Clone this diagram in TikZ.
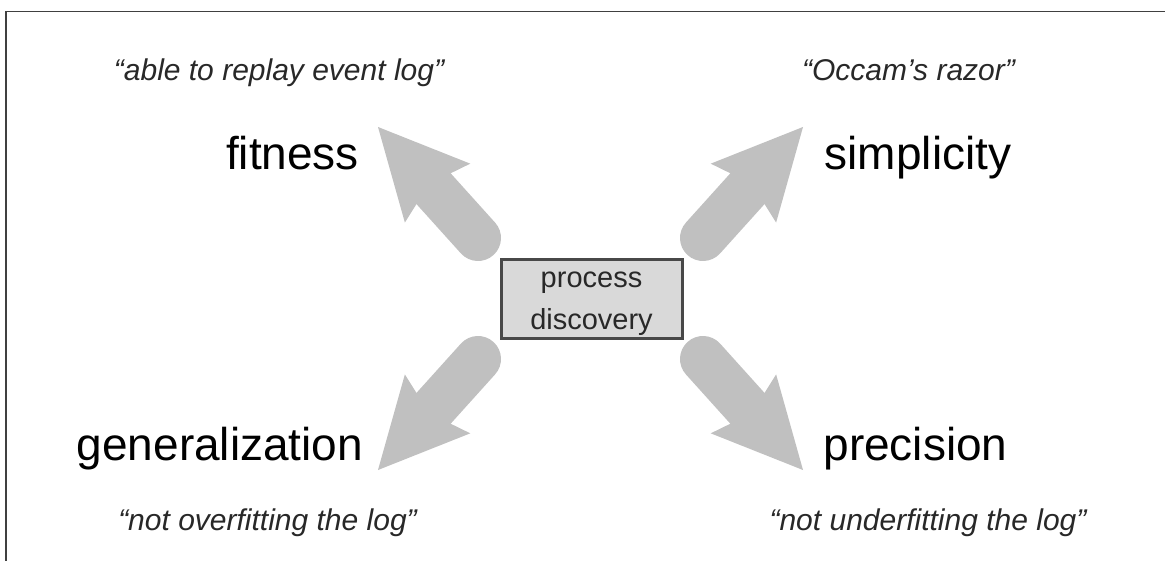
\documentclass[tikz,border=0pt]{standalone}
\usepackage{fontspec}
\setmainfont{Liberation Sans}
\usetikzlibrary{calc}
\definecolor{arrowgray}{RGB}{192,192,192}
\definecolor{boxfill}{RGB}{217,217,217}
\definecolor{boxline}{RGB}{72,72,72}
\definecolor{framecol}{RGB}{64,64,64}
\definecolor{quotecol}{RGB}{40,40,40}
\tikzset{
  label/.style={anchor=base, inner sep=0pt, font=\fontsize{46}{55}\selectfont, text=black},
  quote/.style={anchor=base, inner sep=0pt, font=\fontsize{30}{36}\selectfont\itshape, text=quotecol},
  centerbox/.style={draw=boxline, line width=3pt, fill=boxfill, minimum width=181pt,
    minimum height=79pt, inner sep=0pt},
  boxtext/.style={inner sep=0pt, align=center, text=quotecol,
    font=\fontsize{29}{42}\selectfont},
  arrowbody/.style={draw=arrowgray, line width=46pt, line cap=round},
  arrowhead/.style={fill=arrowgray}
}
% thick grey arrow with a round tail: #1 = tail, #2 = tip
\newcommand\fatarrow[2]{%
  \draw[arrowbody] (#1) -- ($(#2)!80pt!(#1)$);
  \fill[arrowhead] (#2)
    -- ($(#2)!89pt!(#1)!44pt!90:(#1)$)
    -- ($(#2)!83pt!(#1)!23pt!90:(#1)$)
    -- ($(#2)!83pt!(#1)!23pt!-90:(#1)$)
    -- ($(#2)!89pt!(#1)!44pt!-90:(#1)$)
    -- cycle;
}
\begin{document}
\begin{tikzpicture}[x=1pt, y=-1pt]
  \useasboundingbox[fill=white] (0,0) rectangle (1165,561);
  % frame edges
  \draw[framecol, line width=1.5pt] (6,561) -- (6,11.5) -- (1165,11.5);

  % centre box
  \node[centerbox] (pd) at (591.5,299.5) {};
  \node[boxtext] (pdtext) at ($(pd.center)+(0,4)$) {process\\discovery};

  % arrow ends
  \coordinate (ulTail) at (478,238);
  \coordinate (ulTip)  at (378,127);
  \coordinate (urTail) at (703,238);
  \coordinate (urTip)  at (803,127);
  \coordinate (llTail) at (478,359);
  \coordinate (llTip)  at (378,470);
  \coordinate (lrTail) at (703,359);
  \coordinate (lrTip)  at (803,470);

  \fatarrow{ulTail}{ulTip}
  \fatarrow{urTail}{urTip}
  \fatarrow{llTail}{llTip}
  \fatarrow{lrTail}{lrTip}

  % quality dimensions
  \node[label] (fit) at (292.5,170) {fitness};
  \node[label] (sim) at (918,170) {simplicity};
  \node[label] (gen) at (220,460) {generalization};
  \node[label] (pre) at (915.5,460) {precision};

  % explanations
  \node[quote] (fitq) at (279,81) {“able to replay event log”};
  \node[quote] (simq) at (908.5,81) {“Occam’s razor”};
  \node[quote] (genq) at (267.5,530) {“not overfitting the log”};
  \node[quote] (preq) at (928,530) {“not underfitting the log”};
\end{tikzpicture}
\end{document}
